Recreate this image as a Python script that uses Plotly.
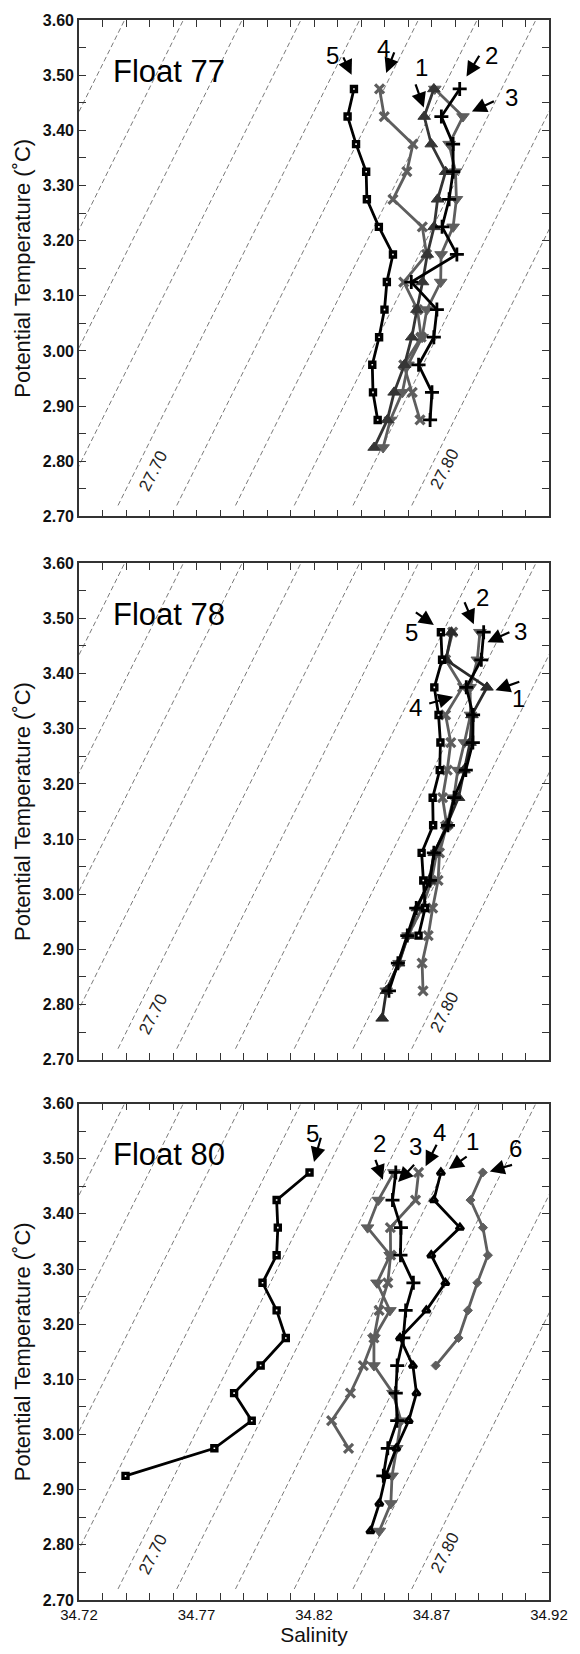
import plotly.graph_objects as go

# ---------------- data ----------------
T_LEVELS = [3.475, 3.425, 3.375, 3.325, 3.275, 3.225, 3.175, 3.125,
            3.075, 3.025, 2.975, 2.925, 2.875, 2.825, 2.775]

# Float 77 profiles (salinity at successive T_LEVELS)
F77_P1 = [34.8710, 34.8669, 34.8699, 34.8760, 34.8726, 34.8711, 34.8682, 34.8662,
          34.8638, 34.8616, 34.8585, 34.8541, 34.8512, 34.8456]
F77_P2 = [34.8820, 34.8742, 34.8792, 34.8792, 34.8775, 34.8745, 34.8808, 34.8614,
          34.8723, 34.8710, 34.8645, 34.8702, 34.8694]
F77_P3 = [34.8714, 34.8834, 34.8775, 34.8802, 34.8806, 34.8792, 34.8741, 34.8739,
          34.8680, 34.8660, 34.8600, 34.8576, 34.8525, 34.8494]
F77_P4 = [34.8479, 34.8499, 34.8621, 34.8595, 34.8536, 34.8661, 34.8679, 34.8582,
          34.8640, 34.8656, 34.8582, 34.8618, 34.8651]
F77_P5 = [34.8370, 34.8343, 34.8379, 34.8422, 34.8425, 34.8476, 34.8536, 34.8510,
          34.8500, 34.8477, 34.8448, 34.8451, 34.8471]

# Float 78 profiles
F78_P1 = [34.8785, 34.8762, 34.8936, 34.8872, 34.8864, 34.8838, 34.8815, 34.8765,
          34.8712, 34.8690, 34.8640, 34.8600, 34.8560, 34.8508, 34.8490]
F78_P2 = [34.8922, 34.8912, 34.8848, 34.8877, 34.8876, 34.8846, 34.8796, 34.8770,
          34.8710, 34.8694, 34.8635, 34.8597, 34.8557, 34.8519]
F78_P3 = [34.8906, 34.8895, 34.8864, 34.8866, 34.8840, 34.8812, 34.8795, 34.8765,
          34.8722, 34.8700, 34.8660, 34.8600, 34.8562, 34.8507]
F78_P4 = [34.8790, 34.8760, 34.8832, 34.8760, 34.8782, 34.8767, 34.8747, 34.8765,
          34.8734, 34.8728, 34.8705, 34.8686, 34.8660, 34.8664]
F78_P5 = [34.8740, 34.8745, 34.8712, 34.8730, 34.8738, 34.8735, 34.8705, 34.8707,
          34.8658, 34.8665, 34.8673, 34.8645]

# Float 80 profiles
F80_P1 = [34.8740, 34.8710, 34.8821, 34.8699, 34.8759, 34.8678, 34.8566, 34.8621,
          34.8636, 34.8603, 34.8550, 34.8505, 34.8478, 34.8440]
F80_P2 = [34.8540, 34.8474, 34.8428, 34.8524, 34.8468, 34.8523, 34.8455, 34.8455,
          34.8536, 34.8570, 34.8552, 34.8532, 34.8527, 34.8478]
F80_P3 = [34.8548, 34.8534, 34.8570, 34.8568, 34.8623, 34.8590, 34.8580, 34.8554,
          34.8548, 34.8554, 34.8514, 34.8495]
F80_P4 = [34.8645, 34.8632, 34.8525, 34.8526, 34.8514, 34.8477, 34.8455, 34.8410,
          34.8355, 34.8275, 34.8347]
F80_P5 = [34.8181, 34.8041, 34.8046, 34.8041, 34.7981, 34.8041, 34.8080, 34.7973,
          34.7860, 34.7935, 34.7776, 34.7398]
F80_P6 = [34.8918, 34.8866, 34.8919, 34.8940, 34.8895, 34.8855, 34.8815, 34.8718]

# isopycnals (linearised): sigma levels and their salinity at T_ISO_START
SIGMA_LEVELS = [27.62, 27.64, 27.66, 27.68, 27.70, 27.72, 27.74, 27.76, 27.78, 27.80]
SIGMA_LABELS = ["27.70", "27.80"]
ISO_S_AT_START = 34.7366   # salinity of the 27.70 line at T_ISO_START
ISO_T_START = 2.72
ISO_T_END = 3.60
ISO_DS_PER_LEVEL = 0.025   # salinity step between successive 0.02 sigma lines
ISO_DT_DS = 8.56           # slope dT/dS of isopycnals

FLOAT_NAMES = ["Float 77", "Float 78", "Float 80"]
X_TICKS = [34.72, 34.77, 34.82, 34.87, 34.92]
Y_TICKS = [2.70, 2.80, 2.90, 3.00, 3.10, 3.20, 3.30, 3.40, 3.50, 3.60]

# ---------------- styles ----------------
FONT = "Liberation Sans, Arial, Helvetica, sans-serif"
BLACK = "#000000"
DARK = "#353535"
GRAY = "#5e5e5e"
AXC = "#333333"
LW = 2.8

def sty(symbol, size, fill, lcolor, lwidth, linecolor):
    return dict(marker=dict(symbol=symbol, size=size, color=fill,
                            line=dict(color=lcolor, width=lwidth)),
                line=dict(color=linecolor, width=LW))

SQ = sty("square", 5, "white", BLACK, 3.4, BLACK)
CR = sty("cross-thin", 10, BLACK, BLACK, 2.8, BLACK)
XX = sty("x-thin", 9, GRAY, GRAY, 3.2, GRAY)
TD = sty("triangle-down", 11, GRAY, GRAY, 1, GRAY)

panels = [
    [(F77_P4, XX), (F77_P3, TD), (F77_P1, sty("triangle-up", 11, DARK, DARK, 1, DARK)),
     (F77_P2, CR), (F77_P5, SQ)],
    [(F78_P4, XX), (F78_P3, TD), (F78_P1, sty("triangle-up", 11, "#2a2a2a", "#2a2a2a", 1, "#2a2a2a")),
     (F78_P2, CR), (F78_P5, SQ)],
    [(F80_P6, sty("diamond", 7, GRAY, GRAY, 1, GRAY)), (F80_P4, XX), (F80_P2, TD),
     (F80_P1, sty("triangle-up", 6.5, "white", BLACK, 3.2, BLACK)), (F80_P3, CR), (F80_P5, SQ)],
]

# arrows: (label, text S, text T, tail S, tail T, tip S, tip T)
ARROWS = [
    [("5", 34.8279, 3.536, 34.8322, 3.535, 34.8360, 3.5006),
     ("4", 34.8494, 3.548, 34.8544, 3.544, 34.8507, 3.504),
     ("1", 34.8656, 3.513, 34.8630, 3.486, 34.8667, 3.4415),
     ("2", 34.8957, 3.536, 34.8907, 3.538, 34.8849, 3.4975),
     ("3", 34.9041, 3.460, 34.8972, 3.454, 34.8872, 3.434)],
    [("5", 34.8614, 3.4746, 34.8627, 3.513, 34.8710, 3.488),
     ("2", 34.8915, 3.538, 34.8838, 3.532, 34.8880, 3.4895),
     ("3", 34.9080, 3.477, 34.9038, 3.476, 34.8938, 3.457),
     ("1", 34.9069, 3.355, 34.9080, 3.386, 34.8972, 3.370),
     ("4", 34.8630, 3.339, 34.8684, 3.345, 34.8792, 3.358)],
    [("5", 34.8192, 3.545, 34.8231, 3.5406, 34.8200, 3.494),
     ("2", 34.8478, 3.528, 34.8459, 3.5004, 34.8493, 3.462),
     ("3", 34.8632, 3.5215, 34.8632, 3.4915, 34.8558, 3.4577),
     ("4", 34.8732, 3.547, 34.8725, 3.528, 34.8675, 3.4864),
     ("1", 34.8876, 3.531, 34.8856, 3.5055, 34.8774, 3.4813),
     ("6", 34.9056, 3.518, 34.9049, 3.4896, 34.8948, 3.4768)],
]

W, H = 580, 1654
ML, MR, MT, MB = 79, 22, 15, 51
PH = H - MT - MB
PANEL_PX = [(15, 514), (561, 1060), (1104, 1603)]

fig = go.Figure()
annotations = []

for i, profiles in enumerate(panels):
    xa = "x" if i == 0 else f"x{i+1}"
    ya = "y" if i == 0 else f"y{i+1}"
    # isopycnals
    for sig in SIGMA_LEVELS:
        k = round((sig - 27.70) / 0.02)
        s0 = ISO_S_AT_START + k * ISO_DS_PER_LEVEL
        ts = [ISO_T_START, ISO_T_END]
        ss = [s0 + (t - ISO_T_START) / ISO_DT_DS for t in ts]
        fig.add_trace(go.Scatter(x=ss, y=ts, mode="lines", xaxis=xa, yaxis=ya,
                                 line=dict(color="#7a7a7a", width=1.0, dash="5px,3px"),
                                 hoverinfo="skip", showlegend=False))
    for svals, st in profiles:
        fig.add_trace(go.Scatter(x=svals, y=T_LEVELS[:len(svals)], mode="lines+markers",
                                 xaxis=xa, yaxis=ya, marker=st["marker"], line=st["line"],
                                 showlegend=False, cliponaxis=False))
    # float label
    annotations.append(dict(x=34.7585, y=3.507, xref=xa, yref=ya, text=FLOAT_NAMES[i],
                            showarrow=False, font=dict(family=FONT, size=31, color=BLACK),
                            xanchor="center", yanchor="middle"))
    # isopycnal labels
    for lab, sx, ty in zip(SIGMA_LABELS, [34.7515, 34.8757], [2.782, 2.787]):
        annotations.append(dict(x=sx, y=ty, xref=xa, yref=ya, text=lab, showarrow=False,
                                textangle=-63, font=dict(family=FONT, size=17, color="#222"),
                                xanchor="center", yanchor="middle"))
    for lab, tx, tt, ax_, ay_, hx, hy in ARROWS[i]:
        annotations.append(dict(x=hx, y=hy, ax=ax_, ay=ay_, xref=xa, yref=ya,
                                axref=xa, ayref=ya, text="", showarrow=True,
                                arrowhead=2, arrowsize=1.35, arrowwidth=2.2,
                                arrowcolor=BLACK, standoff=0, startstandoff=0))
        annotations.append(dict(x=tx, y=tt, xref=xa, yref=ya, text=lab, showarrow=False,
                                font=dict(family=FONT, size=24, color=BLACK),
                                xanchor="center", yanchor="middle"))

layout = dict(width=W, height=H, margin=dict(l=ML, r=MR, t=MT, b=MB),
              paper_bgcolor="white", plot_bgcolor="white", showlegend=False,
              annotations=annotations, font=dict(family=FONT, color="#111"))

for i, (top, bot) in enumerate(PANEL_PX):
    d0 = 1 - (bot - MT) / PH
    d1 = 1 - (top - MT) / PH
    xk = "xaxis" if i == 0 else f"xaxis{i+1}"
    yk = "yaxis" if i == 0 else f"yaxis{i+1}"
    ya = "y" if i == 0 else f"y{i+1}"
    xa = "x" if i == 0 else f"x{i+1}"
    layout[xk] = dict(range=[34.72, 34.92], domain=[0, 1], anchor=ya,
                      tickmode="array", tickvals=X_TICKS,
                      ticktext=[f"{v:.2f}" for v in X_TICKS],
                      showticklabels=(i == 2), ticks="inside", ticklen=7, tickwidth=1.3,
                      tickcolor=AXC, showline=True, linecolor=AXC, linewidth=1.6,
                      mirror="ticks", showgrid=False, zeroline=False,
                      tickfont=dict(family=FONT, size=15, color="#111"),
                      minor=dict(tick0=34.72, dtick=0.01, ticks="inside", ticklen=7,
                                 tickwidth=1.3, tickcolor=AXC, showgrid=False),
                      title=dict(text="Salinity" if i == 2 else "",
                                 font=dict(family=FONT, size=21, color="#111"), standoff=5))
    layout[yk] = dict(range=[2.70, 3.60], domain=[d0, d1], anchor=xa,
                      tickmode="array", tickvals=Y_TICKS,
                      ticktext=[f"{v:.2f}" for v in Y_TICKS],
                      ticks="inside", ticklen=7, tickwidth=1.3, tickcolor=AXC,
                      showline=True, linecolor=AXC, linewidth=1.6, mirror="ticks",
                      showgrid=False, zeroline=False,
                      tickfont=dict(family=FONT, size=16, color="#111", weight="bold"),
                      minor=dict(tick0=2.70, dtick=0.05, ticks="inside", ticklen=7,
                                 tickwidth=1.3, tickcolor=AXC, showgrid=False),
                      title=dict(text="Potential Temperature (˚C)",
                                 font=dict(family=FONT, size=22, color="#111"), standoff=6))

fig.update_layout(**layout)
fig.write_html("out.html")
